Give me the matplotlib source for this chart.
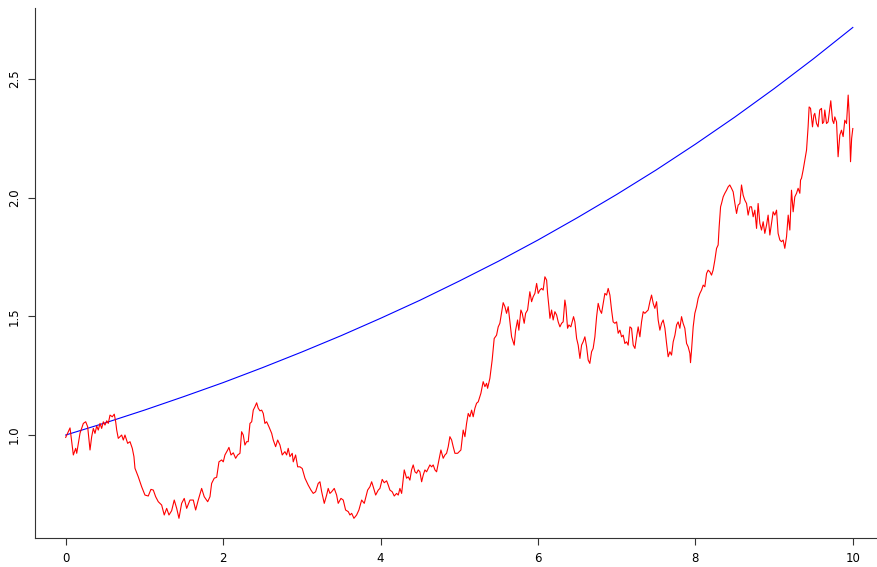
import numpy as np
import matplotlib
matplotlib.use("Agg")
import matplotlib.pyplot as plt

# Expected value curve, every 0.5
t_mean = np.arange(0, 10.01, 0.5)
y_mean = [1.000, 1.051, 1.105, 1.162, 1.221, 1.284, 1.350, 1.419, 1.492, 1.568,
          1.649, 1.733, 1.822, 1.916, 2.014, 2.117, 2.226, 2.340, 2.460, 2.586, 2.718]

# Sample path (red)
t_path = [
    0.000, 0.055, 0.097, 0.127, 0.140, 0.182, 0.224, 0.254, 0.279, 0.309,
    0.330, 0.351, 0.372, 0.394, 0.414, 0.436, 0.457, 0.478, 0.499, 0.521,
    0.541, 0.563, 0.592, 0.617, 0.635, 0.648, 0.668, 0.711, 0.732, 0.753,
    0.787, 0.817, 0.846, 0.867, 0.880, 0.922, 0.965, 1.007, 1.049, 1.083,
    1.113, 1.143, 1.176, 1.219, 1.252, 1.283, 1.312, 1.346, 1.379, 1.410,
    1.439, 1.473, 1.506, 1.537, 1.579, 1.621, 1.651, 1.684, 1.727, 1.760,
    1.804, 1.833, 1.854, 1.887, 1.918, 1.947, 1.981, 2.002, 2.023, 2.058,
    2.074, 2.100, 2.129, 2.159, 2.185, 2.214, 2.235, 2.256, 2.277, 2.299,
    2.319, 2.341, 2.363, 2.383, 2.404, 2.426, 2.446, 2.468, 2.490, 2.510,
    2.531, 2.553, 2.582, 2.617, 2.637, 2.667, 2.693, 2.722, 2.751, 2.785,
    2.807, 2.827, 2.849, 2.878, 2.891, 2.921, 2.947, 2.976, 3.005, 3.040,
    3.081, 3.116, 3.145, 3.175, 3.208, 3.230, 3.252, 3.285, 3.315, 3.335,
    3.357, 3.379, 3.412, 3.442, 3.462, 3.497, 3.526, 3.556, 3.590, 3.611,
    3.633, 3.662, 3.696, 3.725, 3.760, 3.793, 3.836, 3.865, 3.887, 3.907,
    3.938, 3.971, 3.992, 4.021, 4.047, 4.077, 4.098, 4.119, 4.148, 4.174,
    4.204, 4.225, 4.246, 4.268, 4.301, 4.331, 4.352, 4.373, 4.394, 4.415,
    4.437, 4.458, 4.479, 4.500, 4.522, 4.542, 4.564, 4.585, 4.606, 4.627,
    4.649, 4.669, 4.691, 4.712, 4.733, 4.767, 4.796, 4.818, 4.839, 4.860,
    4.881, 4.903, 4.923, 4.945, 4.979, 5.021, 5.050, 5.072, 5.093, 5.114,
    5.135, 5.157, 5.177, 5.199, 5.220, 5.241, 5.275, 5.304, 5.326, 5.347,
    5.360, 5.389, 5.418, 5.444, 5.474, 5.495, 5.516, 5.558, 5.580, 5.601,
    5.622, 5.665, 5.698, 5.716, 5.741, 5.757, 5.783, 5.800, 5.825, 5.843,
    5.868, 5.897, 5.919, 5.939, 5.961, 5.983, 6.003, 6.024, 6.046, 6.066,
    6.088, 6.110, 6.122, 6.139, 6.152, 6.173, 6.193, 6.215, 6.237, 6.257,
    6.279, 6.300, 6.320, 6.342, 6.355, 6.376, 6.393, 6.418, 6.435, 6.452,
    6.469, 6.491, 6.511, 6.533, 6.554, 6.574, 6.596, 6.618, 6.638, 6.659,
    6.681, 6.701, 6.723, 6.745, 6.765, 6.787, 6.808, 6.829, 6.850, 6.872,
    6.892, 6.914, 6.935, 6.955, 6.977, 6.999, 7.019, 7.041, 7.062, 7.083,
    7.104, 7.126, 7.146, 7.168, 7.189, 7.210, 7.232, 7.253, 7.273, 7.295,
    7.316, 7.337, 7.358, 7.380, 7.400, 7.422, 7.443, 7.464, 7.485, 7.507,
    7.527, 7.549, 7.570, 7.591, 7.613, 7.634, 7.654, 7.676, 7.697, 7.718,
    7.740, 7.761, 7.781, 7.803, 7.824, 7.844, 7.866, 7.888, 7.908, 7.930,
    7.938, 7.951, 7.972, 7.993, 8.015, 8.035, 8.057, 8.078, 8.099, 8.120,
    8.142, 8.162, 8.184, 8.205, 8.225, 8.247, 8.269, 8.289, 8.302, 8.320,
    8.332, 8.353, 8.374, 8.396, 8.416, 8.437, 8.459, 8.480, 8.502, 8.523,
    8.543, 8.565, 8.586, 8.607, 8.628, 8.650, 8.670, 8.692, 8.713, 8.734,
    8.755, 8.777, 8.797, 8.819, 8.840, 8.861, 8.882, 8.904, 8.924, 8.946,
    8.988, 9.009, 9.031, 9.051, 9.073, 9.094, 9.115, 9.136, 9.158, 9.179,
    9.200, 9.221, 9.242, 9.263, 9.285, 9.305, 9.327, 9.336, 9.348, 9.369,
    9.391, 9.412, 9.432, 9.445, 9.463, 9.488, 9.505, 9.517, 9.539, 9.559,
    9.580, 9.602, 9.615, 9.631, 9.644, 9.666, 9.686, 9.708, 9.720, 9.742,
    9.758, 9.771, 9.793, 9.813, 9.835, 9.856, 9.877, 9.898, 9.920, 9.941,
    9.953, 9.971, 9.985, 10.000,
]
y_path = [
    0.990, 1.030, 0.916, 0.944, 0.923, 1.008, 1.049, 1.056, 1.035, 0.937,
    0.993, 1.028, 1.007, 1.038, 1.021, 1.049, 1.028, 1.056, 1.042, 1.060,
    1.049, 1.084, 1.077, 1.088, 1.056, 1.021, 0.986, 1.000, 0.979, 1.000,
    0.965, 0.972, 0.944, 0.909, 0.860, 0.824, 0.782, 0.747, 0.743, 0.771,
    0.768, 0.740, 0.719, 0.705, 0.663, 0.691, 0.663, 0.681, 0.726, 0.691,
    0.649, 0.712, 0.733, 0.691, 0.726, 0.726, 0.684, 0.726, 0.775, 0.740,
    0.719, 0.740, 0.796, 0.818, 0.822, 0.887, 0.895, 0.887, 0.916, 0.937,
    0.948, 0.916, 0.925, 0.902, 0.916, 0.923, 1.014, 1.000, 0.958, 0.972,
    0.972, 1.049, 1.056, 1.105, 1.119, 1.136, 1.113, 1.102, 1.105, 1.091,
    1.049, 1.056, 1.035, 1.007, 0.979, 0.951, 0.979, 0.958, 0.916, 0.930,
    0.916, 0.944, 0.909, 0.923, 0.887, 0.916, 0.866, 0.866, 0.859, 0.818,
    0.789, 0.768, 0.754, 0.761, 0.796, 0.803, 0.761, 0.712, 0.747, 0.775,
    0.754, 0.761, 0.775, 0.747, 0.712, 0.733, 0.726, 0.684, 0.677, 0.663,
    0.670, 0.649, 0.663, 0.684, 0.726, 0.712, 0.768, 0.782, 0.803, 0.782,
    0.747, 0.768, 0.775, 0.813, 0.799, 0.807, 0.789, 0.768, 0.761, 0.743,
    0.754, 0.747, 0.775, 0.754, 0.853, 0.818, 0.824, 0.810, 0.853, 0.874,
    0.845, 0.839, 0.853, 0.845, 0.803, 0.831, 0.853, 0.845, 0.859, 0.874,
    0.866, 0.874, 0.853, 0.845, 0.881, 0.937, 0.902, 0.916, 0.923, 0.951,
    0.993, 0.979, 0.951, 0.923, 0.923, 0.937, 1.021, 0.993, 1.049, 1.091,
    1.077, 1.105, 1.077, 1.113, 1.134, 1.140, 1.176, 1.225, 1.204, 1.218,
    1.197, 1.239, 1.316, 1.407, 1.421, 1.456, 1.471, 1.558, 1.541, 1.513,
    1.541, 1.414, 1.379, 1.442, 1.485, 1.442, 1.527, 1.513, 1.471, 1.513,
    1.527, 1.604, 1.562, 1.583, 1.597, 1.639, 1.597, 1.611, 1.618, 1.611,
    1.667, 1.653, 1.597, 1.541, 1.492, 1.527, 1.485, 1.520, 1.506, 1.477,
    1.456, 1.471, 1.477, 1.569, 1.541, 1.450, 1.464, 1.456, 1.477, 1.499,
    1.477, 1.407, 1.379, 1.323, 1.379, 1.393, 1.414, 1.372, 1.316, 1.302,
    1.351, 1.365, 1.414, 1.499, 1.555, 1.527, 1.513, 1.555, 1.597, 1.590,
    1.618, 1.590, 1.527, 1.477, 1.471, 1.477, 1.429, 1.442, 1.414, 1.421,
    1.386, 1.393, 1.379, 1.456, 1.450, 1.379, 1.365, 1.414, 1.456, 1.414,
    1.477, 1.520, 1.513, 1.520, 1.527, 1.562, 1.590, 1.555, 1.534, 1.562,
    1.485, 1.442, 1.471, 1.485, 1.450, 1.386, 1.330, 1.351, 1.337, 1.393,
    1.421, 1.464, 1.477, 1.450, 1.499, 1.471, 1.450, 1.386, 1.372, 1.344,
    1.305, 1.358, 1.456, 1.513, 1.541, 1.576, 1.597, 1.611, 1.632, 1.625,
    1.681, 1.695, 1.688, 1.674, 1.695, 1.737, 1.787, 1.801, 1.878, 1.962,
    1.976, 2.004, 2.019, 2.032, 2.046, 2.054, 2.040, 2.025, 1.976, 1.934,
    1.969, 1.976, 2.054, 2.011, 1.990, 1.976, 1.927, 1.962, 1.962, 1.920,
    1.948, 1.871, 1.976, 1.892, 1.864, 1.899, 1.850, 1.885, 1.927, 1.843,
    1.941, 1.927, 1.948, 1.850, 1.822, 1.815, 1.822, 1.787, 1.836, 1.927,
    1.864, 2.032, 1.941, 2.004, 2.019, 2.040, 2.019, 2.075, 2.082, 2.117,
    2.159, 2.201, 2.299, 2.383, 2.377, 2.299, 2.348, 2.356, 2.313, 2.299,
    2.370, 2.377, 2.313, 2.320, 2.370, 2.313, 2.320, 2.377, 2.409, 2.327,
    2.313, 2.341, 2.320, 2.173, 2.264, 2.285, 2.258, 2.327, 2.313, 2.433,
    2.356, 2.152, 2.250, 2.292,
]

x_ticks = [0, 2, 4, 6, 8, 10]
y_ticks = [1.0, 1.5, 2.0, 2.5]

fig = plt.figure(figsize=(8.78, 5.67), dpi=100)
ax = fig.add_axes([35 / 878, 29 / 567, 843 / 878, 530 / 567])

ax.plot(t_mean, y_mean, color="#0000FF", lw=0.8)
ax.plot(t_path, y_path, color="#FF0000", lw=0.8)

ax.set_xlim(-0.39, 10.32)
ax.set_ylim(0.566, 2.80)

ax.spines["top"].set_visible(False)
ax.spines["right"].set_visible(False)
for side in ["left", "bottom"]:
    ax.spines[side].set_linewidth(0.8)
    ax.spines[side].set_color("#333333")

ax.set_xticks(x_ticks)
ax.set_xticklabels([str(v) for v in x_ticks])
ax.set_yticks(y_ticks)
ax.set_yticklabels(["%.1f" % v for v in y_ticks])
ax.tick_params(length=5, width=0.8, color="#333333", labelsize=8.5, pad=5)
ax.tick_params(axis="y", labelrotation=90)
for lbl in ax.get_yticklabels():
    lbl.set_va("center")
for lbl in ax.get_xticklabels() + ax.get_yticklabels():
    lbl.set_family(["DejaVu Sans"])

fig.savefig("out.png", dpi=100)
